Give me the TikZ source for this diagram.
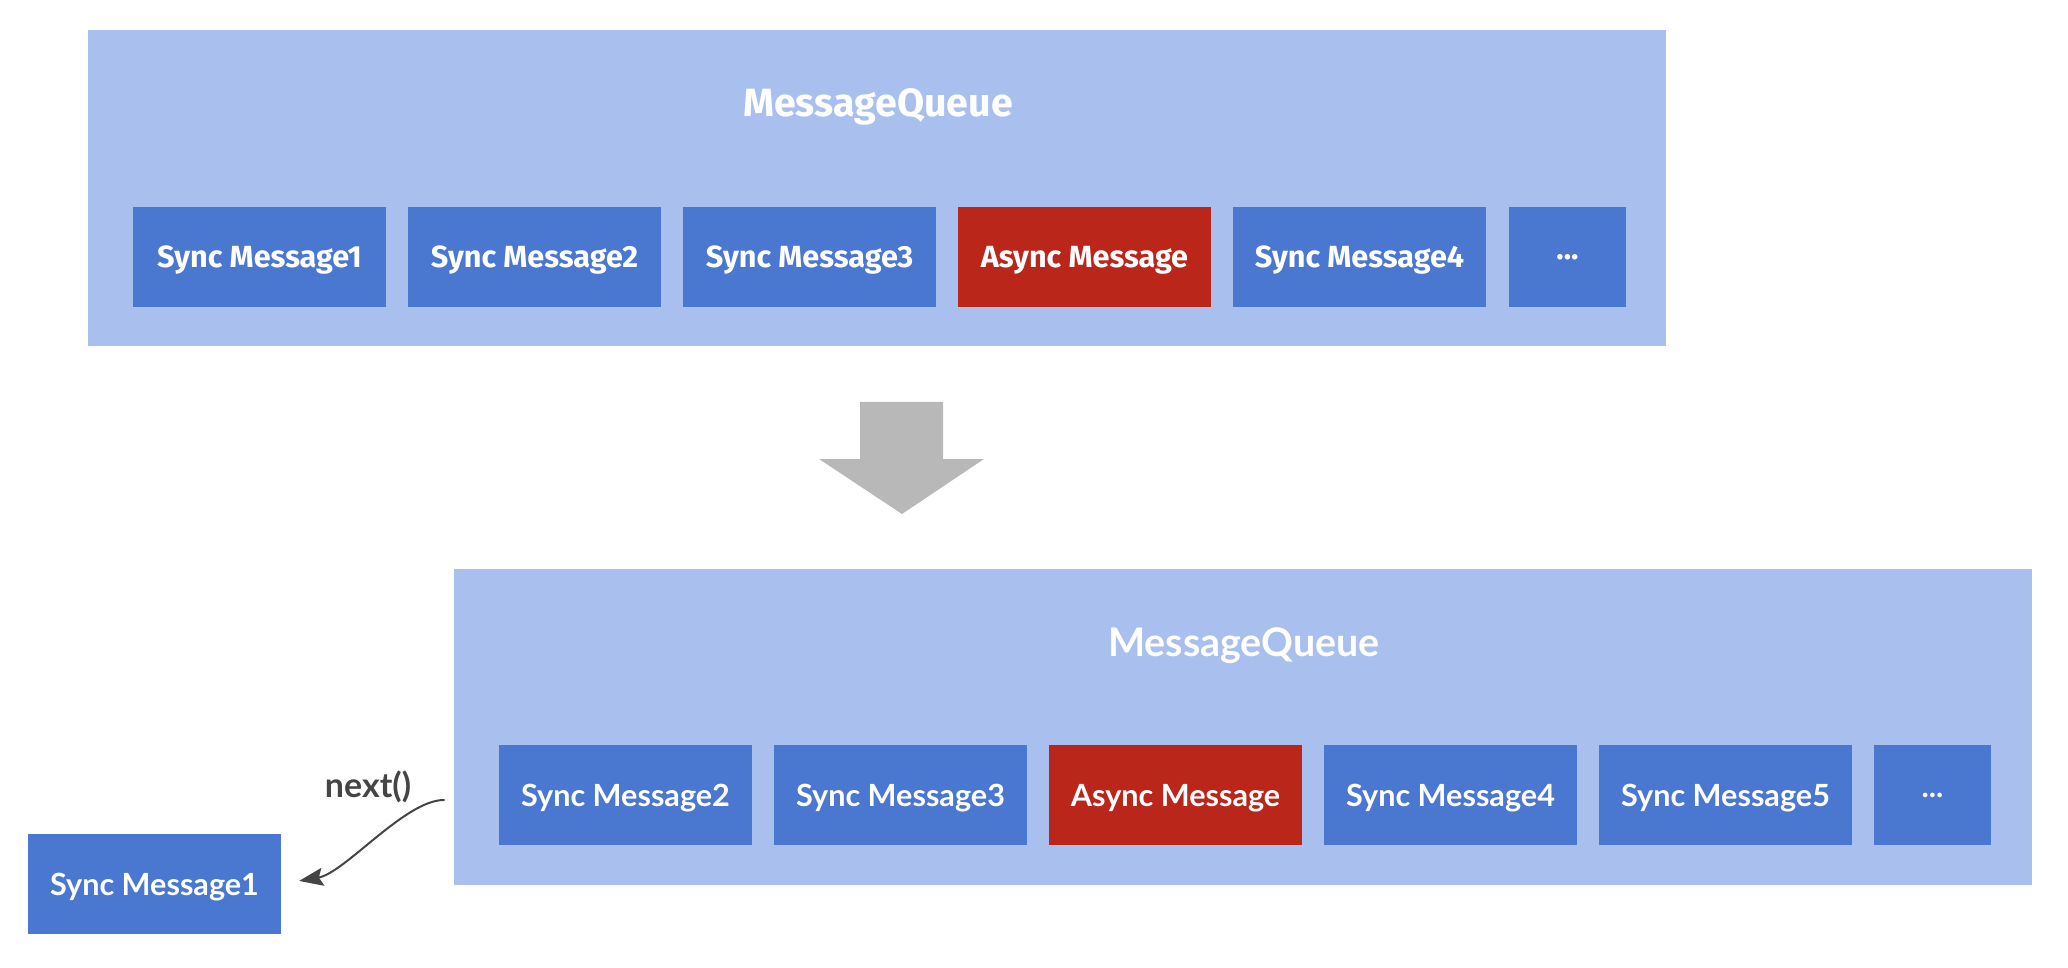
\documentclass[tikz,border=0pt]{standalone}
\usepackage{fontspec}
\setmainfont{Lato}
\newfontfamily\topfont{Fira Sans}
\usetikzlibrary{arrows.meta}
\definecolor{queuebg}{HTML}{A9C0EE}
\definecolor{msgblue}{HTML}{4A77D0}
\definecolor{msgred}{HTML}{BB261B}
\definecolor{bigarrow}{HTML}{B8B8B8}
\definecolor{nextgray}{HTML}{454545}
\begin{document}
\begin{tikzpicture}[x=0.5pt, y=-0.5pt, line join=round, line cap=round,
  queue/.style={fill=queuebg, minimum width=789pt, minimum height=158pt, inner sep=0pt},
  qtitle/.style={text=white, text depth=0pt, font=\bfseries\fontsize{19.7}{22}\selectfont},
  msg/.style={fill=#1, text=white, text depth=0pt, minimum width=126.5pt, minimum height=50pt, inner sep=0pt, font=\bfseries\fontsize{15.3}{17}\selectfont},
  msg/.default=msgblue,
  topmsg/.style={msg=#1, font=\topfont\bfseries\fontsize{15.3}{17}\selectfont},
  nextarrow/.style={draw=nextgray, line width=1pt, shorten >=9pt, -{Stealth[length=12pt, width=9pt, inset=2pt]}},
  nextlabel/.style={text=nextgray, font=\bfseries\fontsize{17}{19}\selectfont}]
  \useasboundingbox (0,0) rectangle (2068,968);
  \node[queue] (topq) at (877,188) {};
  \node[qtitle, font=\topfont\bfseries\fontsize{19.7}{22}\selectfont] (toptitle) at (878,103) {MessageQueue};
  \foreach \i/\x/\t/\c in {1/259.5/Sync Message1/msgblue, 2/534.5/Sync Message2/msgblue, 3/809.5/Sync Message3/msgblue, 4/1084.5/Async Message/msgred, 5/1359.5/Sync Message4/msgblue} {
    \node[topmsg=\c] (top\i) at (\x,257) {\t};
  }
  \node[topmsg=msgblue, minimum width=58.5pt] (top6) at (1567.5,257) {...};
  \fill[bigarrow] (860,402) -- (943,402) -- (943,459) -- (984,459) -- (902,514) -- (819,459) -- (860,459) -- cycle;
  \node[queue] (botq) at (1242.5,727) {};
  \node[qtitle] (bottitle) at (1244,642) {MessageQueue};
  \foreach \i/\x/\t/\c in {1/625.5/Sync Message2/msgblue, 2/900.5/Sync Message3/msgblue, 3/1175.5/Async Message/msgred, 4/1450.5/Sync Message4/msgblue, 5/1725.5/Sync Message5/msgblue} {
    \node[msg=\c] (bot\i) at (\x,795) {\t};
  }
  \node[msg, minimum width=58.5pt] (bot6) at (1932.5,795) {...};
  \node[msg] (single) at (154.5,884) {Sync Message1};
  \coordinate (nextstart) at (444,800);
  \draw[nextarrow] (nextstart) .. controls (405,800) and (345,873) .. (single.east);
  \node[nextlabel] (nextlbl) at (368,787) {next()};
\end{tikzpicture}
\end{document}
